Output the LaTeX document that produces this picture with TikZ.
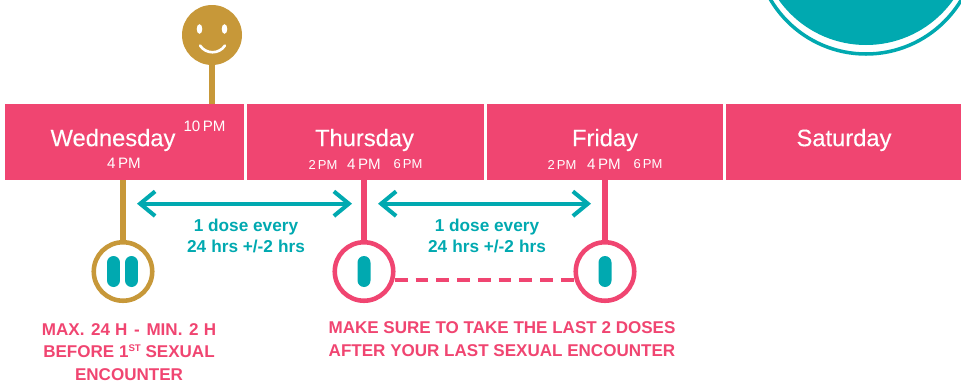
\documentclass[tikz,border=0pt]{standalone}
\usepackage{fontspec}
\setmainfont{Liberation Sans}
\newfontfamily\mediumfont[FakeBold=0.25]{Liberation Sans}
\usetikzlibrary{arrows.meta,calc,positioning}
\definecolor{daypink}{HTML}{F04571}
\definecolor{doseteal}{HTML}{00A9B0}
\definecolor{sexgold}{HTML}{C79839}
\newcommand{\unitgap}{\kern2.9pt}
\newcommand{\wordgap}{\kern1.1pt\ }
\tikzset{
  daylabel/.style={text=white,font=\mediumfont\fontsize{13.5}{15}\selectfont,inner sep=0pt},
  timelabel/.style={text=white,font=\fontsize{8.6}{10}\selectfont,inner sep=0pt},
  smalltime/.style={text=white,font=\fontsize{7.4}{9}\selectfont,inner sep=0pt},
  dosenote/.style={text=doseteal,font=\bfseries\fontsize{9.8}{12}\selectfont,align=center,inner sep=0pt},
  rednote/.style={text=daypink,font=\bfseries\fontsize{9.7}{13}\selectfont,align=center,inner sep=0pt},
  dosering/.style={circle,draw,line width=2.6pt,fill=white,minimum size=1.17cm,inner sep=0pt,outer sep=0pt},
  pill/.style={fill=doseteal,rectangle,rounded corners=0.13cm,minimum width=0.26cm,minimum height=0.62cm,inner sep=0pt},
  stem/.style={line width=2.9pt},
  doselink/.style={doseteal,line width=2.3pt,{Straight Barb[length=8.5pt,width=14pt]}-{Straight Barb[length=8.5pt,width=14pt]}}
}
\begin{document}
\begin{tikzpicture}[x=0.02cm,y=-0.02cm]
  \useasboundingbox (0,0) rectangle (961,386);
  \clip (0,0) rectangle (961,386);
  % corner badge
  \filldraw[fill=white,draw=doseteal,line width=2pt] (866,-57) circle (111);
  \fill[doseteal] (866,-62) circle (107);
  % days
  \fill[daypink] (5,104) rectangle (244,180);
  \fill[daypink] (247,104) rectangle (484,180);
  \fill[daypink] (487,104) rectangle (723,180);
  \fill[daypink] (726,104) rectangle (961,180);
  \node[daylabel] (wed) at (113,140) {Wednesday};
  \node[daylabel] (thu) at (364.5,140) {Thursday};
  \node[daylabel] (fri) at (605,140) {Friday};
  \node[daylabel] (sat) at (844,140) {Saturday};
  % times
  \node[timelabel] (wedten) at (204.5,126) {10\,PM};
  \node[timelabel] (wedfour) at (124,163) {4\,PM};
  \node[smalltime] (thutwo) at (323,164.5) {2\,PM};
  \node[timelabel] (thufour) at (364,164) {4\,PM};
  \node[smalltime] (thusix) at (408,164.5) {6\,PM};
  \node[smalltime] (fritwo) at (562,164.5) {2\,PM};
  \node[timelabel] (frifour) at (604,164) {4\,PM};
  \node[smalltime] (frisix) at (648,164.5) {6\,PM};
  % smiley
  \coordinate (smiley) at (212,35);
  \coordinate (smileybase) at (212,104);
  \draw[stem,sexgold] (smiley) -- (smileybase);
  \fill[sexgold] (smiley) circle (30);
  \fill[white] (199.5,29) ellipse (2.8 and 4.8);
  \fill[white] (224.5,29) ellipse (2.8 and 4.8);
  \draw[white,line width=1.5pt,line cap=round] (200,45.5) .. controls (206,54.5) and (219,54.5) .. (225,45.5);
  % doses
  \coordinate (wedbase) at (123,180);
  \coordinate (thubase) at (364,180);
  \coordinate (fribase) at (605,180);
  \node[dosering,draw=sexgold] (wedring) at (123,271.5) {};
  \node[dosering,draw=daypink] (thuring) at (364,271.5) {};
  \node[dosering,draw=daypink] (friring) at (605,271.5) {};
  \draw[stem,sexgold] (wedbase) -- (wedring);
  \draw[stem,daypink] (thubase) -- (thuring);
  \draw[stem,daypink] (fribase) -- (friring);
  \node[pill] (wedpillone) at (113.5,271.5) {};
  \node[pill] (wedpilltwo) at (131.5,271.5) {};
  \node[pill] (thupill) at (364,271.5) {};
  \node[pill] (fripill) at (605,271.5) {};
  % last doses
  \coordinate (dashleft) at (395,280);
  \coordinate (dashright) at (575,280);
  \draw[daypink,line width=2.3pt,dash pattern=on 7.2pt off 4.6pt] (dashleft) -- (dashright);
  % intervals
  \coordinate (arrowa) at (137,203.7);
  \coordinate (arrowb) at (352,203.7);
  \coordinate (arrowc) at (378,203.7);
  \coordinate (arrowd) at (591,203.7);
  \draw[doselink] (arrowa) -- (arrowb);
  \draw[doselink] (arrowc) -- (arrowd);
  \node[dosenote] (noteone) at (246,235.5) {1 dose every\\24\unitgap hrs +/-2\unitgap hrs};
  \node[dosenote] (notetwo) at (487,235.5) {1 dose every\\24\unitgap hrs +/-2\unitgap hrs};
  % warnings
  \node[rednote] (notemax) at (129,352) {MAX.\wordgap 24\unitgap H\wordgap -\wordgap MIN.\wordgap 2\unitgap H\\BEFORE 1{\raisebox{3.4pt}{\fontsize{5.5}{6}\selectfont ST}} SEXUAL\\ENCOUNTER};
  \node[rednote] (notelast) at (502,339.5) {MAKE SURE TO TAKE THE LAST 2 DOSES\\AFTER YOUR LAST SEXUAL ENCOUNTER};
\end{tikzpicture}
\end{document}
